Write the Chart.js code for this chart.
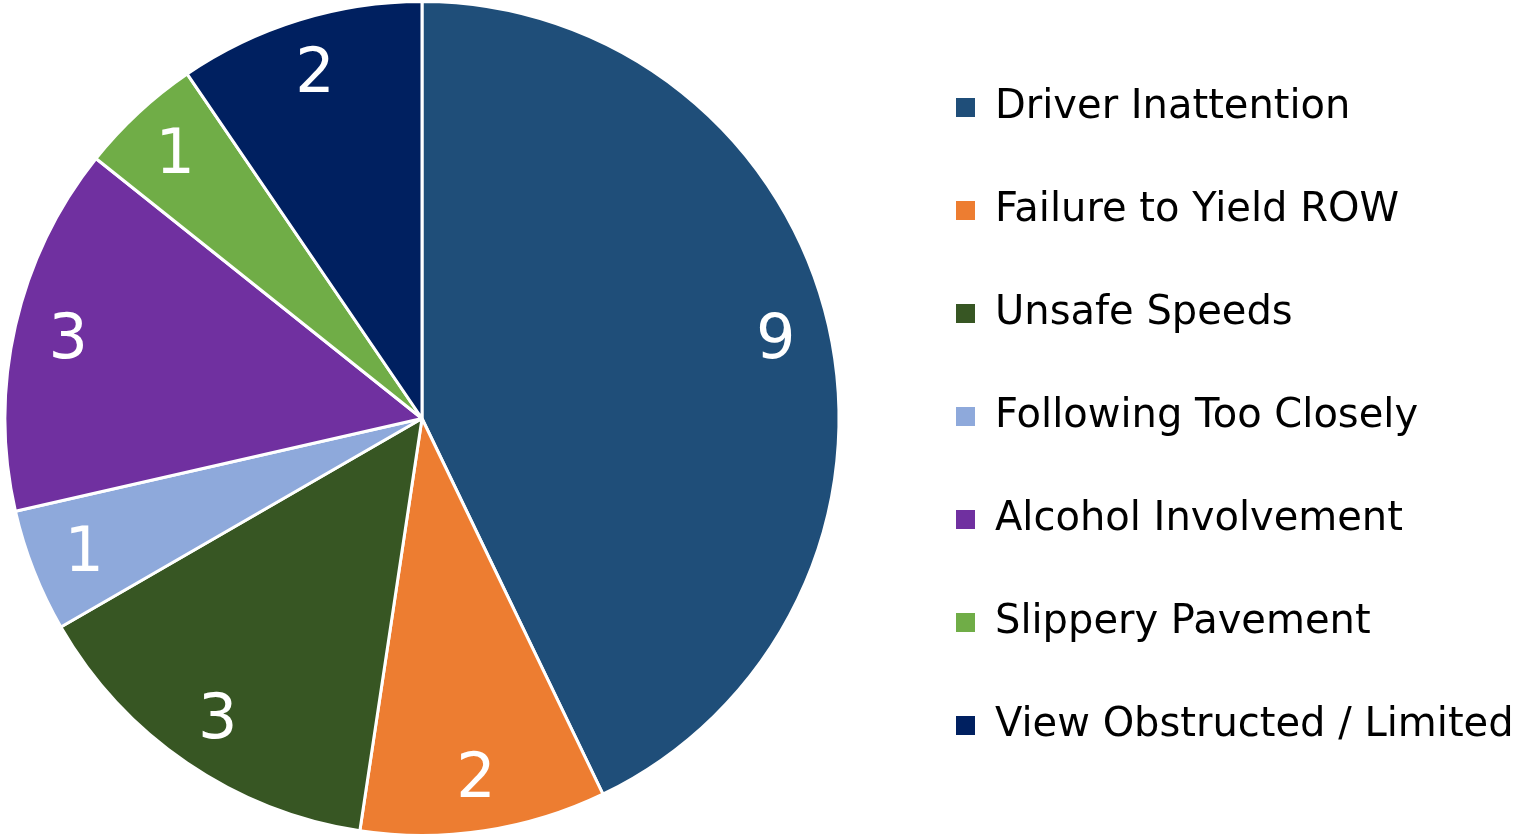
<!DOCTYPE html>
<html lang="en">
<head>
  <meta charset="UTF-8" />
  <title>Crash Causes</title>
  <script src="https://cdn.jsdelivr.net/npm/chart.js"></script>
  <style>
    html, body {
      margin: 0;
      padding: 0;
      background: #ffffff;
    }

    .wrap {
      width: 1529px;
      height: 837px;
      position: relative;
    }
  </style>
</head>
<body>
  <div class="wrap">
    <canvas id="causesChart"></canvas>
  </div>

  <script>
    // data
    const categories = [
      'Driver Inattention',
      'Failure to Yield ROW',
      'Unsafe Speeds',
      'Following Too Closely',
      'Alcohol Involvement',
      'Slippery Pavement',
      'View Obstructed / Limited'
    ];
    const crashCounts = [9, 2, 3, 1, 3, 1, 2];
    const sliceColors = ['#1F4E79', '#ED7D31', '#375623', '#8EA9DB', '#7030A0', '#70AD47', '#002060'];

    const FONT = '"DejaVu Sans", sans-serif';
    const LEGEND_PAD = 63;     // gap between legend rows
    const PIE_AREA_W = 844;    // width kept for the pie
    const LEGEND_BOX_X = 956;  // where the legend squares start

    // writes the value inside each slice, near the outer edge
    const sliceValues = {
      id: 'sliceValues',
      afterDatasetsDraw(chart) {
        const ctx = chart.ctx;
        const meta = chart.getDatasetMeta(0);
        ctx.save();
        ctx.fillStyle = '#ffffff';
        ctx.font = '62px ' + FONT;
        ctx.textAlign = 'center';
        ctx.textBaseline = 'middle';
        meta.data.forEach((arc, i) => {
          const p = arc.getProps(['x', 'y', 'startAngle', 'endAngle', 'outerRadius'], true);
          const mid = (p.startAngle + p.endAngle) / 2;
          const r = p.outerRadius * 0.87;
          ctx.fillText(String(crashCounts[i]), p.x + Math.cos(mid) * r, p.y + Math.sin(mid) * r + 4);
        });
        ctx.restore();
      }
    };

    // keeps the pie on the left and moves the legend to the right spot
    const legendPlacement = {
      id: 'legendPlacement',
      beforeInit(chart) {
        const legend = chart.legend;
        if (!legend || legend._patched) return;
        const fit = legend.fit;
        legend.fit = function () {
          fit.call(this);
          this.width = 1529 - PIE_AREA_W;
        };
        legend._patched = true;
      },
      afterLayout(chart) {
        const legend = chart.legend;
        const w = legend.right - legend.left;
        legend.left = LEGEND_BOX_X - LEGEND_PAD;
        legend.right = legend.left + w;
        legend.top -= 2;
        legend.bottom -= 2;
      }
    };

    const ctx = document.getElementById('causesChart').getContext('2d');
    const causesChart = new Chart(ctx, {
      type: 'pie',
      data: {
        labels: categories,
        datasets: [{
          data: crashCounts,
          backgroundColor: sliceColors,
          borderColor: '#ffffff',
          borderWidth: 3
        }]
      },
      options: {
        responsive: true,
        maintainAspectRatio: false,
        animation: false,
        layout: { padding: 0 },
        plugins: {
          tooltip: { enabled: false },
          legend: {
            position: 'right',
            align: 'center',
            labels: {
              color: '#000000',
              font: { family: FONT, size: 40 },
              boxWidth: 19,
              boxHeight: 19,
              padding: LEGEND_PAD,
              generateLabels(chart) {
                const items = Chart.overrides.pie.plugins.legend.labels.generateLabels(chart);
                return items.map(it => Object.assign(it, { lineWidth: 0, strokeStyle: it.fillStyle }));
              }
            }
          }
        }
      },
      plugins: [sliceValues, legendPlacement]
    });
  </script>
</body>
</html>
